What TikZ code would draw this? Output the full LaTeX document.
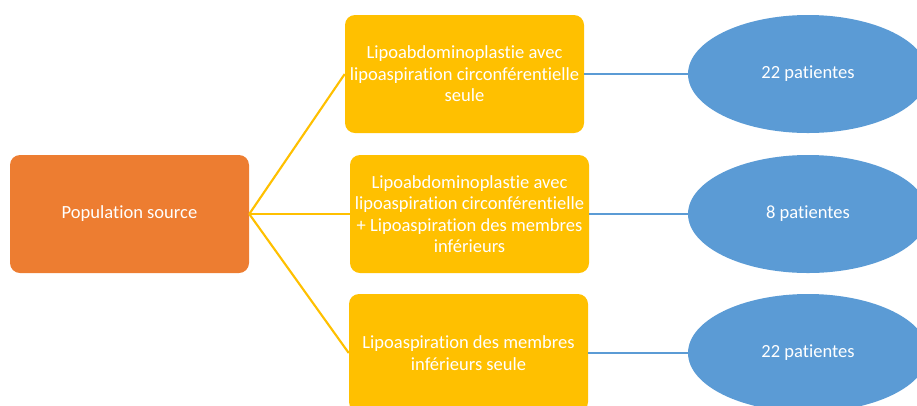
\documentclass[tikz,border=0pt]{standalone}
\usepackage{fontspec}
\setmainfont{Carlito}[Ligatures=NoCommon]
\usetikzlibrary{shapes.geometric}
\definecolor{popOrange}{HTML}{ED7D31}
\definecolor{boxYellow}{HTML}{FFC000}
\definecolor{ellBlue}{HTML}{5B9BD5}
\begin{document}
\begin{tikzpicture}[x=0.75pt,y=-0.75pt,
 txt/.style={text=white,font=\fontsize{13.9}{16.1}\selectfont,align=center},
 popbox/.style={txt,fill=popOrange,rounded corners=7.5pt,minimum width=179.25pt,minimum height=88.5pt,inner sep=0pt},
 catbox/.style={txt,fill=boxYellow,rounded corners=7.5pt,minimum width=179.25pt,minimum height=88.5pt,inner sep=0pt},
 countell/.style={txt,ellipse,fill=ellBlue,minimum width=180pt,minimum height=88.5pt,inner sep=0pt},
 ylink/.style={draw=boxYellow,line width=1.6pt},
 blink/.style={draw=ellBlue,line width=2pt}]
\useasboundingbox (0,0) rectangle (917,405);
\clip (0,0) rectangle (917,405);
\node[popbox] (pop) at (129.5,214) {Population source};
\node[catbox] (c1) at (464.5,74) {Lipoabdominoplastie avec\\lipoaspiration circonférentielle\\seule};
\node[catbox] (c2) at (469.5,214) {Lipoabdominoplastie avec\\lipoaspiration circonférentielle\\+ Lipoaspiration des membres\\inférieurs};
\node[catbox] (c3) at (468.5,353) {Lipoaspiration des membres\\inférieurs seule};
\node[countell] (e1) at (808,74) {22 patientes};
\node[countell] (e2) at (808,214) {8 patientes};
\node[countell] (e3) at (808,353) {22 patientes};
\draw[ylink] (pop.east) -- (c1.west);
\draw[ylink] (pop.east) -- (c2.west);
\draw[ylink] (pop.east) -- (c3.west);
\draw[blink] (c1.east) -- (e1.west);
\draw[blink] (c2.east) -- (e2.west);
\draw[blink] (c3.east) -- (e3.west);
\end{tikzpicture}
\end{document}
